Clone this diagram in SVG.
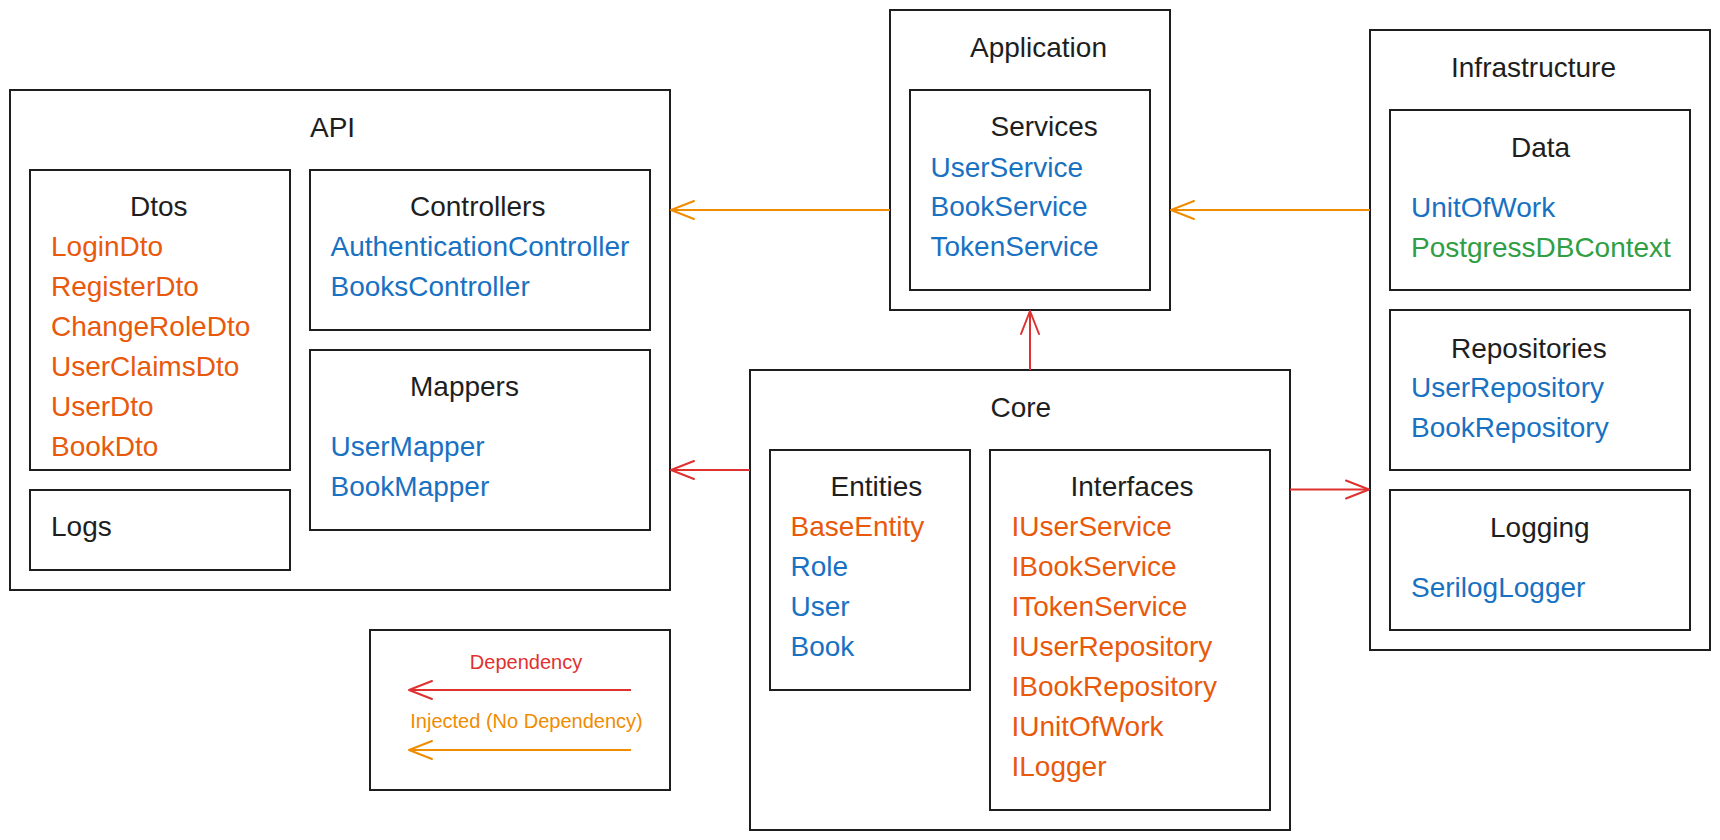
<svg xmlns="http://www.w3.org/2000/svg" width="1720" height="840" viewBox="0 0 1720 840">
<defs>
<style>
.box{fill:#ffffff;stroke:#1e1e1e;stroke-width:2}
text{font-family:"Liberation Sans",Arial,Helvetica,sans-serif;font-size:28px}
.t{fill:#1e1e1e}
.o{fill:#e8590c}
.b{fill:#1971c2}
.g{fill:#2f9e44}
.lr{fill:#e03131;font-size:20px}
.lo{fill:#f08c00;font-size:20px}
.dep{stroke:#e03131;stroke-width:2;fill:none}
.inj{stroke:#f08c00;stroke-width:2;fill:none}
</style>
<marker id="ar" markerUnits="userSpaceOnUse" viewBox="-26 -12 28 24" refX="0" refY="0" markerWidth="28" markerHeight="24" orient="auto">
<path d="M-23,-9 L0,0 L-23,9" fill="none" stroke="#e03131" stroke-width="2" stroke-linecap="round" stroke-linejoin="round"/>
</marker>
<marker id="ao" markerUnits="userSpaceOnUse" viewBox="-26 -12 28 24" refX="0" refY="0" markerWidth="28" markerHeight="24" orient="auto">
<path d="M-23,-9 L0,0 L-23,9" fill="none" stroke="#f08c00" stroke-width="2" stroke-linecap="round" stroke-linejoin="round"/>
</marker>
</defs>
<rect width="1720" height="840" fill="#ffffff"/>

<g id="api">
<rect class="box" x="10" y="90" width="660" height="500"/>
<text class="t" x="310" y="137">API</text>
<g id="dtos">
<rect class="box" x="30" y="170" width="260" height="300"/>
<text class="t" x="130" y="216">Dtos</text>
<text class="o" x="51" y="256">LoginDto</text>
<text class="o" x="51" y="296">RegisterDto</text>
<text class="o" x="51" y="336">ChangeRoleDto</text>
<text class="o" x="51" y="376">UserClaimsDto</text>
<text class="o" x="51" y="416">UserDto</text>
<text class="o" x="51" y="456">BookDto</text>
</g>
<g id="logs">
<rect class="box" x="30" y="490" width="260" height="80"/>
<text class="t" x="51" y="536">Logs</text>
</g>
<g id="controllers">
<rect class="box" x="310" y="170" width="340" height="160"/>
<text class="t" x="410" y="216">Controllers</text>
<text class="b" x="330.5" y="256">AuthenticationController</text>
<text class="b" x="330.5" y="296">BooksController</text>
</g>
<g id="mappers">
<rect class="box" x="310" y="350" width="340" height="180"/>
<text class="t" x="410" y="396">Mappers</text>
<text class="b" x="330.5" y="456">UserMapper</text>
<text class="b" x="330.5" y="496">BookMapper</text>
</g>
</g>

<g id="application">
<rect class="box" x="890" y="10" width="280" height="300"/>
<text class="t" x="970" y="57">Application</text>
<g id="services">
<rect class="box" x="910" y="90" width="240" height="200"/>
<text class="t" x="990.5" y="136">Services</text>
<text class="b" x="930.5" y="176.5">UserService</text>
<text class="b" x="930.5" y="216">BookService</text>
<text class="b" x="930.5" y="256">TokenService</text>
</g>
</g>

<g id="infrastructure">
<rect class="box" x="1370" y="30" width="340" height="620"/>
<text class="t" x="1451" y="77">Infrastructure</text>
<g id="data">
<rect class="box" x="1390" y="110" width="300" height="180"/>
<text class="t" x="1511" y="157">Data</text>
<text class="b" x="1411" y="217">UnitOfWork</text>
<text class="g" x="1411" y="257">PostgressDBContext</text>
</g>
<g id="repositories">
<rect class="box" x="1390" y="310" width="300" height="160"/>
<text class="t" x="1451" y="357.5">Repositories</text>
<text class="b" x="1411" y="396.5">UserRepository</text>
<text class="b" x="1411" y="437">BookRepository</text>
</g>
<g id="logging">
<rect class="box" x="1390" y="490" width="300" height="140"/>
<text class="t" x="1490" y="537">Logging</text>
<text class="b" x="1411" y="596.5">SerilogLogger</text>
</g>
</g>

<g id="core">
<rect class="box" x="750" y="370" width="540" height="460"/>
<text class="t" x="990.5" y="417">Core</text>
<g id="entities">
<rect class="box" x="770" y="450" width="200" height="240"/>
<text class="t" x="830.5" y="496">Entities</text>
<text class="o" x="790.5" y="536">BaseEntity</text>
<text class="b" x="790.5" y="576">Role</text>
<text class="b" x="790.5" y="616">User</text>
<text class="b" x="790.5" y="656">Book</text>
</g>
<g id="interfaces">
<rect class="box" x="990" y="450" width="280" height="360"/>
<text class="t" x="1070.5" y="496">Interfaces</text>
<text class="o" x="1011.5" y="536">IUserService</text>
<text class="o" x="1011.5" y="576">IBookService</text>
<text class="o" x="1011.5" y="616">ITokenService</text>
<text class="o" x="1011.5" y="656">IUserRepository</text>
<text class="o" x="1011.5" y="696">IBookRepository</text>
<text class="o" x="1011.5" y="736">IUnitOfWork</text>
<text class="o" x="1011.5" y="776">ILogger</text>
</g>
</g>

<g id="legend">
<rect class="box" x="370" y="630" width="300" height="160"/>
<text class="lr" x="526" y="669" text-anchor="middle">Dependency</text>
<line class="dep" x1="631" y1="690" x2="409" y2="690" marker-end="url(#ar)"/>
<text class="lo" x="526.5" y="728" text-anchor="middle">Injected (No Dependency)</text>
<line class="inj" x1="631" y1="750" x2="409" y2="750" marker-end="url(#ao)"/>
</g>

<g id="connectors">
<line class="inj" x1="890" y1="210" x2="671" y2="210" marker-end="url(#ao)"/>
<line class="inj" x1="1370" y1="210" x2="1171" y2="210" marker-end="url(#ao)"/>
<line class="dep" x1="1030" y1="370" x2="1030" y2="311" marker-end="url(#ar)"/>
<line class="dep" x1="750" y1="470" x2="671" y2="470" marker-end="url(#ar)"/>
<line class="dep" x1="1290" y1="489.5" x2="1369" y2="489.5" marker-end="url(#ar)"/>
</g>
</svg>
